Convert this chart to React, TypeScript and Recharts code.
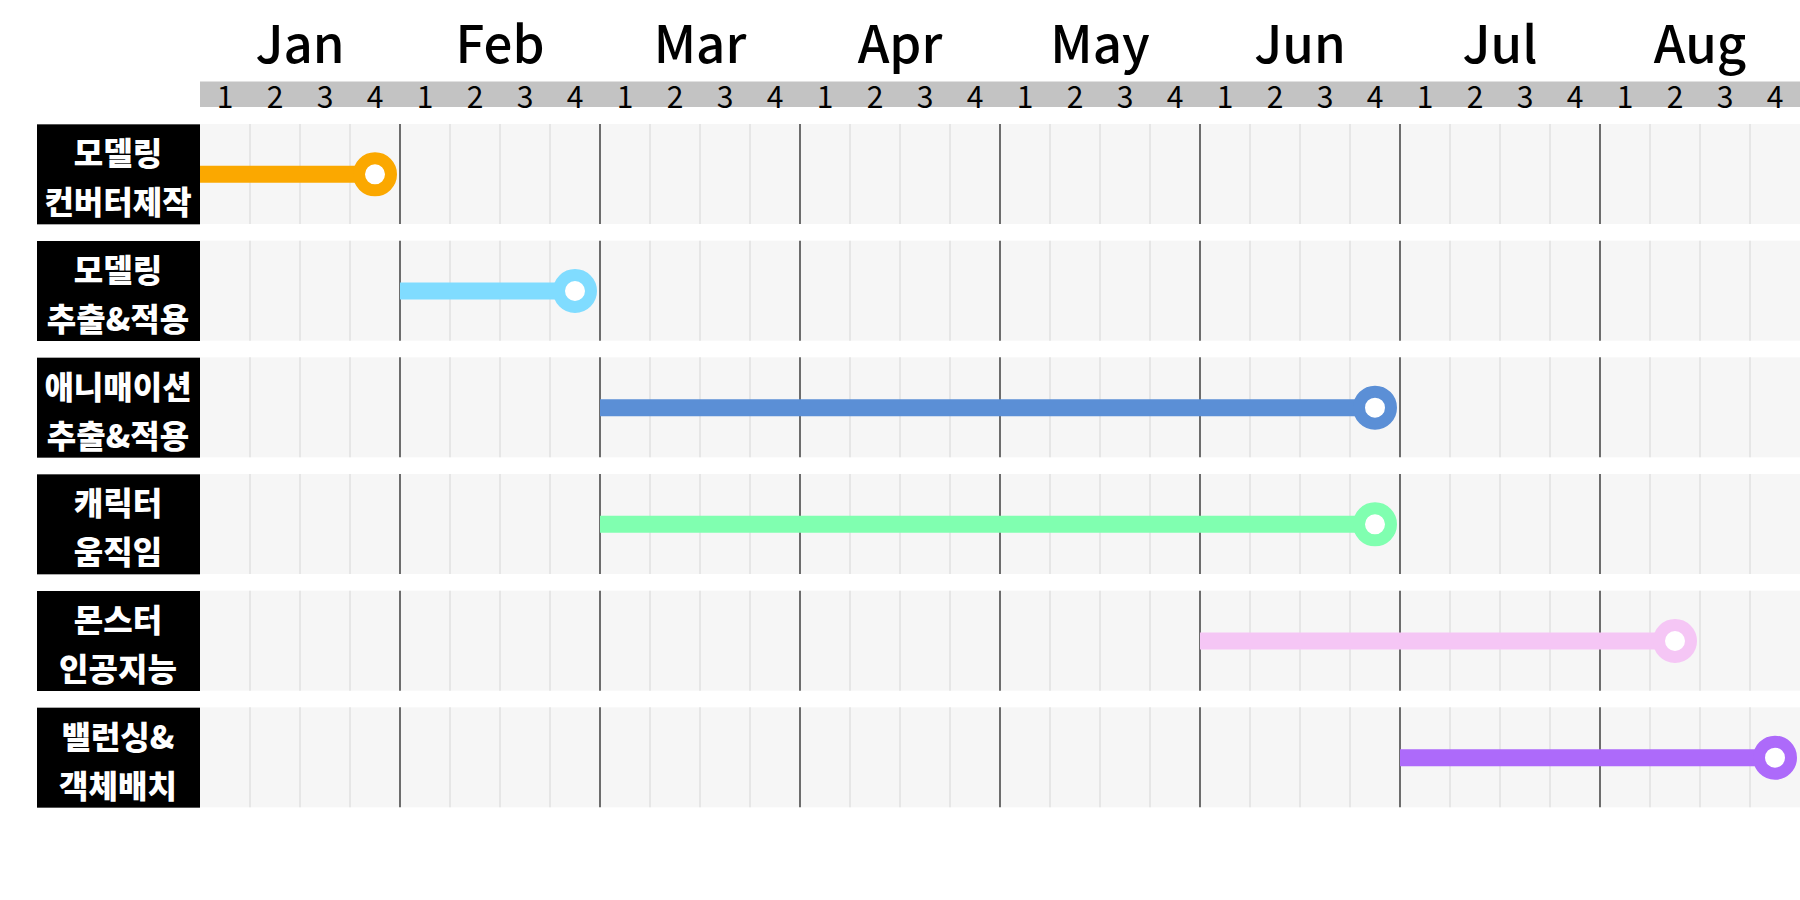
import React from "react";
import { ComposedChart, Bar, Scatter, XAxis, YAxis } from "recharts";

const months = ["Jan", "Feb", "Mar", "Apr", "May", "Jun", "Jul", "Aug"];
const weekLabels = ["1", "2", "3", "4"];
const taskTop = ["모델링", "모델링", "애니매이션", "캐릭터", "몬스터", "밸런싱&"];
const taskBottom = ["컨버터제작", "추출&적용", "추출&적용", "움직임", "인공지능", "객체배치"];
// weeks counted from the start of Jan
const startWeek = [0, 4, 8, 8, 20, 24];
const endWeek = [3.5, 7.5, 23.5, 23.5, 29.5, 31.5];
const colors = ["#fba800", "#80dcff", "#5b8fd6", "#80ffb0", "#f5c6f5", "#ad6afa"];

const WIDTH = 1800;
const HEIGHT = 900;
const LEFT = 36;
const LABEL_W = 164;
const PLOT_W = WIDTH - LEFT - LABEL_W;
const FONT = "'Noto Sans CJK KR', 'Noto Sans', sans-serif";

const totalWeeks = months.length * weekLabels.length;
const weekPx = PLOT_W / totalWeeks;
const weekTicks = Array.from({ length: totalWeeks }, (_, i) => i + 0.5);
const monthTicks = months.map((_, i) => i * weekLabels.length + weekLabels.length / 2);

const taskKeys = taskTop.map((t, i) => `${t} ${taskBottom[i]}`);
const rows = taskKeys.map((task) => ({ task, span: [0, totalWeeks] }));

function RowShape(props: any) {
  const { x, y, width, height } = props;
  const step = width / totalWeeks;
  return (
    <g>
      <rect x={x} y={y} width={width} height={height} fill="#f6f6f6" />
      {Array.from({ length: totalWeeks - 1 }, (_, k) => {
        const w = k + 1;
        const lx = x + w * step;
        const isMonth = w % weekLabels.length === 0;
        return (
          <line
            key={w}
            x1={lx}
            x2={lx}
            y1={y}
            y2={y + height}
            stroke={isMonth ? "#111" : "#e0e0e0"}
            strokeWidth={isMonth ? 1.2 : 1.5}
          />
        );
      })}
    </g>
  );
}

function LabelTick(props: any) {
  const { x, y, payload } = props;
  const i = taskKeys.indexOf(payload.value);
  return (
    <g>
      <rect x={x - (LABEL_W - 1)} y={y - 50} width={LABEL_W - 1} height={100} fill="#000" />
      <text
        x={x - LABEL_W / 2}
        y={y - 23}
        textAnchor="middle"
        dominantBaseline="central"
        fill="#fff"
        fontSize={32}
        fontWeight={900}
        fontFamily={FONT}
      >
        {taskTop[i]}
      </text>
      <text
        x={x - LABEL_W / 2}
        y={y + 26}
        textAnchor="middle"
        dominantBaseline="central"
        fill="#fff"
        fontSize={32}
        fontWeight={900}
        fontFamily={FONT}
      >
        {taskBottom[i]}
      </text>
    </g>
  );
}

function WeekTick(props: any) {
  const { x, y, payload } = props;
  const label = weekLabels[Math.floor(payload.value) % weekLabels.length];
  return (
    <g>
      <rect x={x - weekPx / 2} y={y - 34.5} width={weekPx} height={25.5} fill="#c3c3c3" />
      <text
        x={x}
        y={y - 21}
        textAnchor="middle"
        dominantBaseline="central"
        fill="#000"
        fontSize={30}
        fontFamily={FONT}
      >
        {label}
      </text>
    </g>
  );
}

function MonthTick(props: any) {
  const { x, y, payload } = props;
  const label = months[Math.floor(payload.value / weekLabels.length)];
  return (
    <text x={x} y={y - 17} textAnchor="middle" fill="#000" fontSize={51} fontWeight={500} fontFamily={FONT}>
      {label}
    </text>
  );
}

function RingDot(props: any) {
  const { cx, cy, payload, color } = props;
  if (!payload.end) return <g />;
  return <circle cx={cx} cy={cy} r={16} fill="#fff" stroke={color} strokeWidth={12} />;
}

export default function App() {
  return (
    <div style={{ width: WIDTH, height: HEIGHT, background: "#fff" }}>
      <style>{"body{margin:0}"}</style>
      <ComposedChart
        width={WIDTH}
        height={HEIGHT}
        data={rows}
        layout="vertical"
        margin={{ top: 0, right: 0, bottom: 84, left: LEFT }}
      >
        <XAxis
          xAxisId="b"
          type="number"
          orientation="top"
          domain={[0, totalWeeks]}
          allowDataOverflow
          ticks={monthTicks}
          interval={0}
          height={80}
          axisLine={false}
          tickLine={false}
          tickSize={0}
          tickMargin={0}
          tick={<MonthTick />}
        />
        <XAxis
          xAxisId="a"
          type="number"
          dataKey="x"
          orientation="top"
          domain={[0, totalWeeks]}
          allowDataOverflow
          ticks={weekTicks}
          interval={0}
          height={36}
          axisLine={false}
          tickLine={false}
          tickSize={0}
          tickMargin={0}
          tick={<WeekTick />}
        />
        <YAxis
          type="category"
          dataKey="task"
          width={LABEL_W}
          allowDuplicatedCategory={false}
          interval={0}
          axisLine={false}
          tickLine={false}
          tickSize={0}
          tickMargin={0}
          tick={<LabelTick />}
        />
        <Bar xAxisId="a" dataKey="span" barSize={100} shape={<RowShape />} isAnimationActive={false} />
        {taskKeys.map((task, i) => (
          <Scatter
            key={task}
            xAxisId="a"
            data={[
              { x: startWeek[i], task, end: false },
              { x: endWeek[i], task, end: true },
            ]}
            fill={colors[i]}
            line={{ strokeWidth: 17 }}
            shape={<RingDot color={colors[i]} />}
            isAnimationActive={false}
          />
        ))}
      </ComposedChart>
    </div>
  );
}
